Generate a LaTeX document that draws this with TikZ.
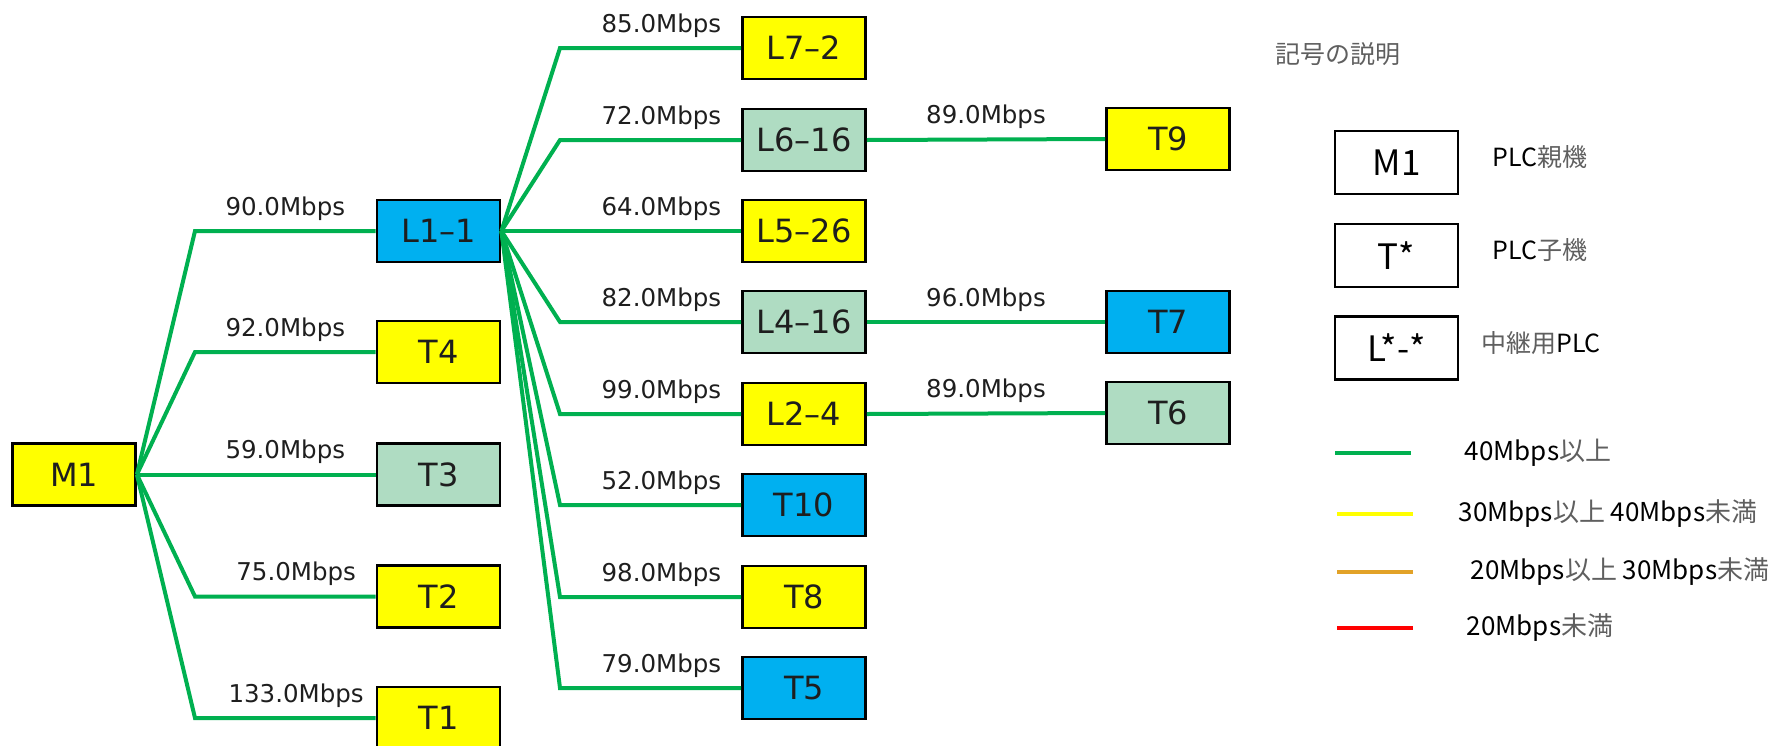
\documentclass[tikz,border=0pt]{standalone}
\usepackage{fontspec}
\usepackage{xcolor}
\setmainfont{DejaVu Sans}
\newfontfamily\jpfont{Noto Sans CJK JP}

\definecolor{linkgreen}{RGB}{0,176,80}
\definecolor{boxyellow}{RGB}{255,255,0}
\definecolor{boxblue}{RGB}{0,176,240}
\definecolor{boxmint}{RGB}{175,220,194}
\definecolor{rateorange}{RGB}{226,162,40}
\definecolor{ratered}{RGB}{255,0,0}
\definecolor{textgray}{RGB}{95,95,95}
\definecolor{ink}{RGB}{30,30,30}

\newcommand{\jpgray}[1]{{\color{textgray}#1}}

\tikzset{
  plc/.style={draw=black,line width=2.8pt,minimum width=123pt,minimum height=62pt,
    inner sep=0pt,text=ink,font=\fontsize{32}{36}\selectfont},
  link/.style={linkgreen,line width=4pt},
  rate/.style={anchor=base,yshift=16pt,inner sep=0pt,text=ink,font=\fontsize{24.5}{28}\selectfont},
  keybox/.style={draw=black,fill=white,line width=2.8pt,minimum width=123pt,minimum height=63pt,
    inner sep=0pt,text=black,font=\jpfont\fontsize{35}{38}\selectfont},
  keytext/.style={inner sep=0pt,text=black,font=\jpfont\fontsize{25}{28}\selectfont},
  keyline/.style={line width=4.5pt},
}

\begin{document}
\begin{tikzpicture}[x=1pt,y=-1pt]
\useasboundingbox (0,0) rectangle (1780,745);

% master and first level
\node[plc,fill=boxyellow] (m1) at (74,474.5) {M1};
\node[plc,fill=boxblue] (l11) at (438.5,231) {L1–1};
\node[plc,fill=boxyellow] (t4) at (438.5,352) {T4};
\node[plc,fill=boxmint] (t3) at (438.5,474.5) {T3};
\node[plc,fill=boxyellow] (t2) at (438.5,596.5) {T2};
\node[plc,fill=boxyellow] (t1) at (438.5,718) {T1};

% behind the repeater L1-1
\node[plc,fill=boxyellow] (l72) at (804,48) {L7–2};
\node[plc,fill=boxmint] (l616) at (804,140) {L6–16};
\node[plc,fill=boxyellow] (l526) at (804,231) {L5–26};
\node[plc,fill=boxmint] (l416) at (804,322) {L4–16};
\node[plc,fill=boxyellow] (l24) at (804,414) {L2–4};
\node[plc,fill=boxblue] (t10) at (804,505) {T10};
\node[plc,fill=boxyellow] (t8) at (804,597) {T8};
\node[plc,fill=boxblue] (t5) at (804,688) {T5};

% last level
\node[plc,fill=boxyellow] (t9) at (1168,139) {T9};
\node[plc,fill=boxblue] (t7) at (1168,322) {T7};
\node[plc,fill=boxmint] (t6) at (1168,413) {T6};

% links with measured rates
\foreach \child/\mbps/\p in {l11/90.0/0.5,t4/92.0/0.5,t3/59.0/0.5,t2/75.0/0.56,t1/133.0/0.56}
  \draw[link] (m1.east) -- (195,0 |- \child.west) -- node[rate,pos=\p] {\mbps Mbps} (\child.west);
\foreach \child/\mbps in {l72/85.0,l616/72.0,l526/64.0,l416/82.0,l24/99.0,t10/52.0,t8/98.0,t5/79.0}
  \draw[link] (l11.east) -- (560,0 |- \child.west) -- node[rate,pos=0.56] {\mbps Mbps} (\child.west);
\draw[link] (l616.east) -- node[rate] {89.0Mbps} (t9.west);
\draw[link] (l416.east) -- node[rate] {96.0Mbps} (t7.west);
\draw[link] (l24.east) -- node[rate] {89.0Mbps} (t6.west);

% legend
\node[inner sep=0pt,text=textgray,font=\jpfont\fontsize{25}{28}\selectfont] (keytitle) at (1338,54) {記号の説明};
\node[keybox] (keym) at (1396.5,162.5) {M1};
\node[keybox] (keyt) at (1396.5,255.5) {T*};
\node[keybox] (keyl) at (1396.5,348) {L*-*};
\node[keytext] (keymtext) at (1540,157) {PLC\jpgray{親機}};
\node[keytext] (keyttext) at (1540,250) {PLC\jpgray{子機}};
\node[keytext] (keyltext) at (1541,343) {\jpgray{中継用}PLC};

\draw[keyline,linkgreen] (1335,453) -- (1411,453);
\draw[keyline,boxyellow] (1337,514) -- (1413,514);
\draw[keyline,rateorange] (1337,572) -- (1413,572);
\draw[keyline,ratered] (1337,628) -- (1413,628);
\node[keytext,font=\jpfont\fontsize{26}{28}\selectfont] (keyg) at (1538,453) {40Mbps\jpgray{以上}};
\node[keytext,font=\jpfont\fontsize{26}{28}\selectfont] (keyy) at (1608,514) {30Mbps\jpgray{以上} 40Mbps\jpgray{未満}};
\node[keytext,font=\jpfont\fontsize{26}{28}\selectfont] (keyo) at (1620,572) {20Mbps\jpgray{以上} 30Mbps\jpgray{未満}};
\node[keytext,font=\jpfont\fontsize{26}{28}\selectfont] (keyr) at (1540,628) {20Mbps\jpgray{未満}};
\end{tikzpicture}
\end{document}
